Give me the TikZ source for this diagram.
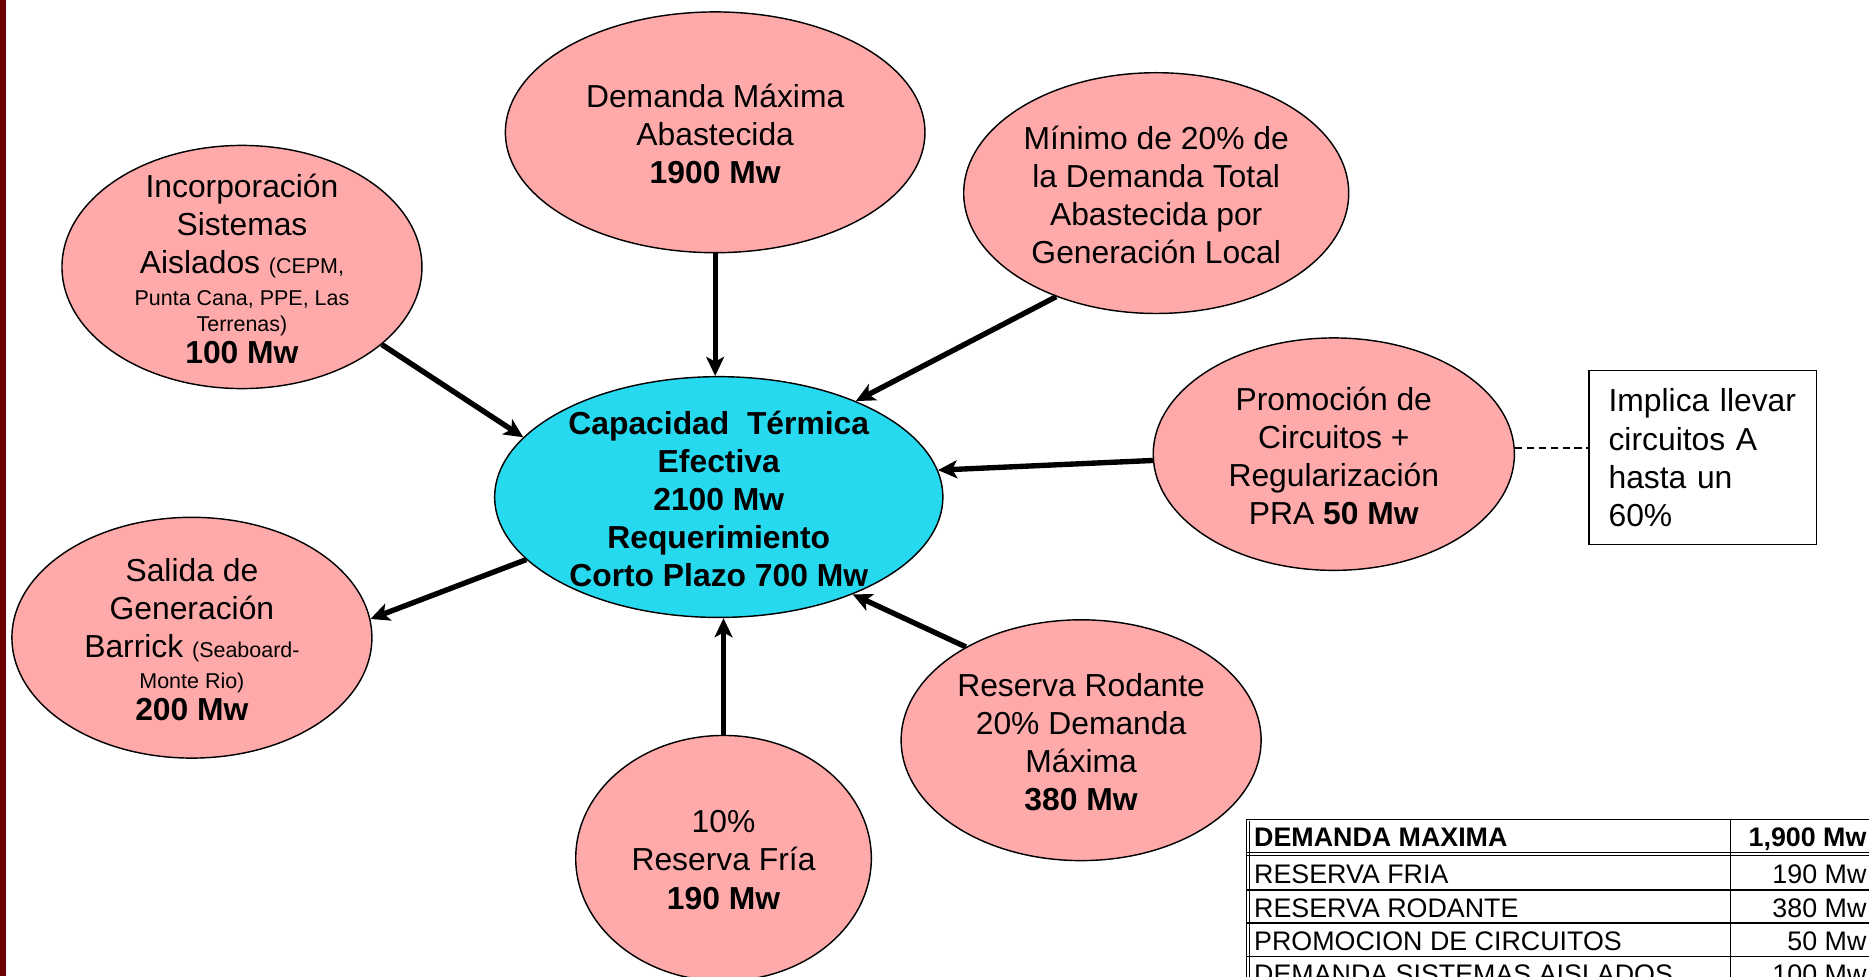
\documentclass[tikz,border=0pt]{standalone}
\usepackage{fontspec}
\setmainfont{Liberation Sans}
\usetikzlibrary{arrows.meta,shapes.geometric}
\definecolor{pinkfill}{RGB}{255,170,170}
\definecolor{cyanfill}{RGB}{38,217,238}
\definecolor{darkstrip}{RGB}{107,0,0}
\newcommand{\smtxt}[1]{{\fontsize{18}{21.6}\selectfont #1}}
\begin{document}
\begin{tikzpicture}[x=1pt,y=-1pt,
  bubble/.style={ellipse,draw=black,line width=1.2pt,fill=pinkfill,inner sep=0pt},
  hub/.style={bubble,fill=cyanfill},
  txt/.style={align=center,font=\fontsize{26.7}{32}\selectfont,inner sep=0pt,yshift=-1.5pt},
  arr/.style={line width=4.5pt,-{Stealth[length=16pt,width=15pt,inset=4pt]}},
  link/.style={line width=1.4pt,dash pattern=on 6pt off 4pt},
  notebox/.style={draw=black,line width=1.2pt,fill=white,inner xsep=16.5pt,inner ysep=0pt,
    text width=158pt,minimum height=146pt,align=left,font=\fontsize{26.7}{32}\selectfont},
  tabline/.style={line width=1pt},
  tabtxt/.style={inner sep=0pt,font=\fontsize{22.5}{27}\selectfont}]
\useasboundingbox (0,0) rectangle (1568,819);
\clip (0,0) rectangle (1568,819);
\fill[white] (0,0) rectangle (1568,819);
\fill[darkstrip] (0,0) rectangle (5,819);

% bubbles
\node[bubble,minimum width=352pt,minimum height=202pt] (dem) at (600,111) {};
\node[bubble,minimum width=323pt,minimum height=202pt] (min) at (970,162) {};
\node[bubble,minimum width=302pt,minimum height=204pt] (inc) at (203,224) {};
\node[hub,minimum width=376pt,minimum height=202pt] (cen) at (603,417) {};
\node[bubble,minimum width=303pt,minimum height=195pt] (pro) at (1119,381) {};
\node[bubble,minimum width=302pt,minimum height=202pt] (sal) at (161,535) {};
\node[bubble,minimum width=302pt,minimum height=202pt] (rr) at (907,621) {};
\node[bubble,minimum width=248pt,minimum height=206pt] (rf) at (607,720) {};

% texts
\node[txt] (demT) at (dem) {Demanda Máxima\\Abastecida\\\textbf{1900 Mw}};
\node[txt] (minT) at (min) {Mínimo de 20\% de\\la Demanda Total\\Abastecida por\\Generación Local};
\node[txt] (incT) at (inc) {Incorporación\\Sistemas\\Aislados \smtxt{(CEPM,}\\[-5pt]\smtxt{Punta Cana, PPE, Las}\\[-11pt]\smtxt{Terrenas)}\\[-5pt]\textbf{100 Mw}};
\node[txt,font=\fontsize{26.7}{32}\selectfont\bfseries] (cenT) at (cen) {Capacidad\ \ Térmica\\Efectiva\\2100 Mw\\Requerimiento\\Corto Plazo 700 Mw};
\node[txt] (proT) at (pro) {Promoción de\\Circuitos +\\Regularización\\PRA \textbf{50 Mw}};
\node[txt] (salT) at (sal) {Salida de\\Generación\\Barrick \smtxt{(Seaboard-}\\[-6pt]\smtxt{Monte Rio)}\\[-5pt]\textbf{200 Mw}};
\node[txt] (rrT) at (rr) {Reserva Rodante\\20\% Demanda\\Máxima\\\textbf{380 Mw}};
\node[txt] (rfT) at (rf) {10\%\\Reserva Fría\\\textbf{190 Mw}};

\node[notebox] (box) at (1428.5,384) {Implica llevar\\circuitos A\\hasta un\\60\%};

% connectors
\draw[arr] (dem.south) -- (dem.south |- cen.north);
\draw[arr] (min.226) -- (cen.35);
\draw[arr] (inc.-29) -- (cen.163);
\draw[arr] (pro.182) -- (cen.7);
\draw[arr] (cen.198) -- (sal.6);
\draw[arr] (rf.north) -- (rf.north |- cen.south);
\draw[arr] (rr.141) -- (cen.-36);
\draw[link] (pro.2) -- (pro.2 -| box.west);

% table
\fill[white] (1046,687.5) rectangle (1575,830);
\draw[tabline,line width=1.6pt] (1046,687.5) -- (1575,687.5);
\draw[tabline] (1045.5,687) -- (1045.5,830);
\draw[tabline,line width=0.7pt] (1048.2,689) -- (1048.2,830);
\draw[tabline] (1046,715.4) -- (1575,715.4);
\draw[tabline] (1046,718) -- (1575,718);
\draw[tabline] (1046,746.6) -- (1575,746.6);
\draw[tabline] (1046,774.4) -- (1575,774.4);
\draw[tabline] (1046,802.6) -- (1575,802.6);
\draw[tabline] (1451.5,687) -- (1451.5,830);

\node[tabtxt,anchor=base west,font=\fontsize{22.5}{27}\selectfont\bfseries] (r0a) at (1052,710.3) {DEMANDA MAXIMA};
\node[tabtxt,anchor=base east,font=\fontsize{22.5}{27}\selectfont\bfseries] (r0b) at (1566,710.3) {1,900 Mw};
\node[tabtxt,anchor=base west] (r1a) at (1052,741.6) {RESERVA FRIA};
\node[tabtxt,anchor=base east] (r1b) at (1566,741.6) {190 Mw};
\node[tabtxt,anchor=base west] (r2a) at (1052,769.4) {RESERVA RODANTE};
\node[tabtxt,anchor=base east] (r2b) at (1566,769.4) {380 Mw};
\node[tabtxt,anchor=base west] (r3a) at (1052,797.5) {PROMOCION DE CIRCUITOS};
\node[tabtxt,anchor=base east] (r3b) at (1566,797.5) {50 Mw};
\node[tabtxt,anchor=base west] (r4a) at (1052,825.3) {DEMANDA SISTEMAS AISLADOS};
\node[tabtxt,anchor=base east] (r4b) at (1566,825.3) {100 Mw};
\end{tikzpicture}
\end{document}
